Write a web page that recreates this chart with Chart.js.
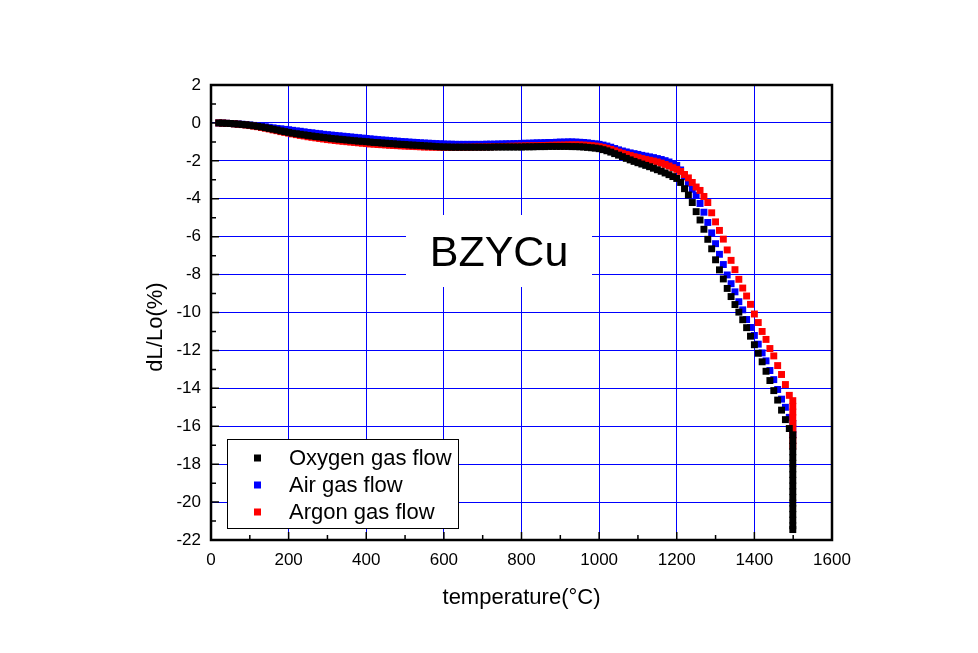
<!DOCTYPE html>
<html>
<head>
<meta charset="utf-8">
<script src="https://cdn.jsdelivr.net/npm/chart.js@4.4.0/dist/chart.umd.min.js"></script>
<style>
  html, body { margin: 0; padding: 0; background: #fff; }
  #wrap { width: 978px; height: 653px; }
</style>
</head>
<body>
<div id="wrap"><canvas id="chart"></canvas></div>
<script>
const sampleName = 'BZYCu';
const seriesLabels = ['Oxygen gas flow', 'Air gas flow', 'Argon gas flow'];
const seriesColors = ['#000000', '#0000ff', '#ff0000'];

// heating ramp, every 10 °C
const temps = [
    20, 30, 40, 50, 60, 70, 80, 90,
    100, 110, 120, 130, 140, 150, 160, 170, 180, 190,
    200, 210, 220, 230, 240, 250, 260, 270, 280, 290,
    300, 310, 320, 330, 340, 350, 360, 370, 380, 390,
    400, 410, 420, 430, 440, 450, 460, 470, 480, 490,
    500, 510, 520, 530, 540, 550, 560, 570, 580, 590,
    600, 610, 620, 630, 640, 650, 660, 670, 680, 690,
    700, 710, 720, 730, 740, 750, 760, 770, 780, 790,
    800, 810, 820, 830, 840, 850, 860, 870, 880, 890,
    900, 910, 920, 930, 940, 950, 960, 970, 980, 990,
    1000, 1010, 1020, 1030, 1040, 1050, 1060, 1070, 1080, 1090,
    1100, 1110, 1120, 1130, 1140, 1150, 1160, 1170, 1180, 1190,
    1200, 1210, 1220, 1230, 1240, 1250, 1260, 1270, 1280, 1290,
    1300, 1310, 1320, 1330, 1340, 1350, 1360, 1370, 1380, 1390,
    1400, 1410, 1420, 1430, 1440, 1450, 1460, 1470, 1480, 1490
];

const oxygen = [
    0.00, -0.01, -0.02, -0.03, -0.05, -0.06, -0.08, -0.10,
    -0.12, -0.15, -0.18, -0.21, -0.25, -0.29, -0.33, -0.37, -0.42, -0.46,
    -0.50, -0.54, -0.57, -0.60, -0.63, -0.66, -0.69, -0.72, -0.74, -0.77,
    -0.79, -0.82, -0.84, -0.86, -0.88, -0.90, -0.92, -0.94, -0.96, -0.97,
    -0.99, -1.01, -1.03, -1.04, -1.06, -1.07, -1.09, -1.10, -1.12, -1.13,
    -1.14, -1.16, -1.17, -1.18, -1.19, -1.21, -1.22, -1.23, -1.25, -1.26,
    -1.27, -1.27, -1.28, -1.28, -1.28, -1.28, -1.28, -1.28, -1.28, -1.28,
    -1.28, -1.28, -1.28, -1.27, -1.27, -1.27, -1.27, -1.27, -1.27, -1.27,
    -1.27, -1.26, -1.26, -1.26, -1.25, -1.25, -1.25, -1.24, -1.24, -1.24,
    -1.24, -1.24, -1.24, -1.25, -1.25, -1.26, -1.27, -1.29, -1.31, -1.33,
    -1.36, -1.41, -1.47, -1.54, -1.62, -1.70, -1.78, -1.87, -1.95, -2.03,
    -2.10, -2.17, -2.24, -2.31, -2.39, -2.47, -2.55, -2.64, -2.73, -2.83,
    -2.93, -3.14, -3.47, -3.80, -4.20, -4.68, -5.12, -5.61, -6.14, -6.64,
    -7.22, -7.75, -8.23, -8.73, -9.16, -9.58, -9.98, -10.38, -10.80, -11.25,
    -11.70, -12.15, -12.60, -13.10, -13.59, -14.12, -14.62, -15.15, -15.65, -16.12
];

const air = [
    0.00, -0.01, -0.02, -0.03, -0.04, -0.06, -0.07, -0.09,
    -0.11, -0.13, -0.15, -0.18, -0.20, -0.23, -0.26, -0.29, -0.31, -0.34,
    -0.36, -0.39, -0.42, -0.44, -0.47, -0.50, -0.52, -0.55, -0.57, -0.60,
    -0.62, -0.64, -0.66, -0.68, -0.70, -0.72, -0.74, -0.76, -0.78, -0.80,
    -0.82, -0.84, -0.86, -0.88, -0.90, -0.91, -0.93, -0.95, -0.96, -0.98,
    -0.99, -1.01, -1.02, -1.03, -1.05, -1.06, -1.07, -1.08, -1.09, -1.10,
    -1.11, -1.12, -1.12, -1.13, -1.13, -1.13, -1.13, -1.13, -1.13, -1.13,
    -1.13, -1.12, -1.12, -1.12, -1.11, -1.11, -1.10, -1.10, -1.09, -1.09,
    -1.08, -1.07, -1.07, -1.06, -1.05, -1.05, -1.04, -1.03, -1.03, -1.02,
    -1.01, -1.01, -1.00, -1.00, -1.01, -1.02, -1.03, -1.05, -1.08, -1.10,
    -1.13, -1.17, -1.22, -1.28, -1.35, -1.42, -1.48, -1.53, -1.58, -1.62,
    -1.66, -1.71, -1.75, -1.79, -1.83, -1.88, -1.93, -1.99, -2.06, -2.14,
    -2.24, -2.48, -2.84, -3.18, -3.50, -3.83, -4.25, -4.71, -5.25, -5.80,
    -6.37, -6.93, -7.47, -8.02, -8.48, -8.91, -9.43, -9.86, -10.37, -10.79,
    -11.21, -11.67, -12.13, -12.55, -13.06, -13.54, -14.06, -14.57, -15.00, -15.53
];

const argon = [
    0.00, -0.01, -0.02, -0.03, -0.05, -0.07, -0.09, -0.11,
    -0.14, -0.17, -0.20, -0.24, -0.28, -0.32, -0.37, -0.41, -0.46, -0.50,
    -0.54, -0.58, -0.62, -0.66, -0.69, -0.73, -0.76, -0.79, -0.82, -0.85,
    -0.88, -0.90, -0.93, -0.95, -0.97, -0.99, -1.01, -1.03, -1.05, -1.07,
    -1.09, -1.11, -1.12, -1.14, -1.15, -1.16, -1.18, -1.19, -1.20, -1.21,
    -1.22, -1.23, -1.24, -1.25, -1.26, -1.27, -1.27, -1.28, -1.28, -1.29,
    -1.29, -1.29, -1.29, -1.29, -1.29, -1.28, -1.28, -1.28, -1.27, -1.27,
    -1.27, -1.26, -1.26, -1.25, -1.25, -1.24, -1.24, -1.23, -1.23, -1.22,
    -1.22, -1.21, -1.21, -1.20, -1.20, -1.19, -1.19, -1.18, -1.18, -1.17,
    -1.17, -1.17, -1.16, -1.16, -1.16, -1.16, -1.17, -1.18, -1.20, -1.22,
    -1.25, -1.29, -1.34, -1.40, -1.47, -1.54, -1.60, -1.66, -1.72, -1.78,
    -1.83, -1.88, -1.93, -1.97, -2.01, -2.06, -2.12, -2.19, -2.27, -2.36,
    -2.45, -2.56, -2.72, -2.90, -3.14, -3.38, -3.56, -3.88, -4.20, -4.74,
    -5.22, -5.67, -6.13, -6.70, -7.25, -7.74, -8.25, -8.71, -9.13, -9.57,
    -10.08, -10.53, -11.00, -11.42, -11.90, -12.29, -12.80, -13.27, -13.80, -14.37
];

// isothermal hold at the top of the ramp
const holdTemp = 1499;
const oxygenHold = [-16.45, -16.75, -17.05, -17.35, -17.65, -17.95, -18.25, -18.55, -18.85,
    -19.15, -19.45, -19.75, -20.05, -20.35, -20.65, -20.95, -21.25, -21.45];
const airHold = [-15.85, -16.15, -16.45];
const argonHold = [-14.65, -14.95, -15.25, -15.55, -15.85, -16.15, -16.45, -16.75, -17.05];

const FONT = 'Arial, "Liberation Sans", sans-serif';

const toPoints = (vals, hold) =>
    temps.map((t, i) => ({ x: t, y: vals[i] })).concat(hold.map(v => ({ x: holdTemp, y: v })));

const decorPlugin = {
    id: 'decorPlugin',
    beforeDatasetsDraw(chart) {
        // white box with the sample name, on top of the grid
        const { ctx, chartArea: a } = chart;
        ctx.save();
        ctx.fillStyle = '#fff';
        ctx.fillRect(a.left + 195, a.top + 130, 186, 72);
        ctx.fillStyle = '#000';
        ctx.font = '43px ' + FONT;
        ctx.textAlign = 'center';
        ctx.textBaseline = 'alphabetic';
        ctx.fillText(sampleName, a.left + 288, a.top + 181);
        ctx.restore();
    },
    afterDraw(chart) {
        const { ctx, chartArea: a, scales } = chart;
        ctx.save();

        // inner tick marks, bottom and left only
        ctx.strokeStyle = '#000';
        ctx.lineWidth = 1.5;
        ctx.beginPath();
        for (let t = 100; t < 1600; t += 100) {
            const px = scales.x.getPixelForValue(t);
            const len = t % 200 === 0 ? 8 : 5;
            ctx.moveTo(px, a.bottom);
            ctx.lineTo(px, a.bottom - len);
        }
        for (let v = -21; v < 2; v++) {
            const py = scales.y.getPixelForValue(v);
            const len = v % 2 === 0 ? 8 : 5;
            ctx.moveTo(a.left, py);
            ctx.lineTo(a.left + len, py);
        }
        ctx.stroke();

        // frame
        ctx.lineWidth = 2.5;
        ctx.strokeRect(a.left, a.top, a.right - a.left, a.bottom - a.top);

        // legend box
        const lx = a.left + 16, ly = a.bottom - 101;
        ctx.fillStyle = '#fff';
        ctx.fillRect(lx, ly, 231, 89);
        ctx.lineWidth = 1;
        ctx.strokeRect(lx + 0.5, ly + 0.5, 231, 89);
        ctx.font = '22px ' + FONT;
        ctx.textAlign = 'left';
        ctx.textBaseline = 'middle';
        chart.data.datasets.forEach((ds, i) => {
            const yy = ly + 19 + i * 27;
            ctx.fillStyle = ds.backgroundColor;
            ctx.fillRect(lx + 27, yy - 3.5, 7, 7);
            ctx.fillStyle = '#000';
            ctx.fillText(ds.label, lx + 62, yy + 1);
        });

        // y axis title
        ctx.translate(156, 327);
        ctx.rotate(-Math.PI / 2);
        ctx.textAlign = 'center';
        ctx.fillText('dL/Lo(%)', 0, 0);
        ctx.restore();
    }
};

new Chart(document.getElementById('chart'), {
    type: 'scatter',
    data: {
        datasets: [
            { label: seriesLabels[0], data: toPoints(oxygen, oxygenHold), backgroundColor: seriesColors[0], borderColor: seriesColors[0], order: 0 },
            { label: seriesLabels[1], data: toPoints(air, airHold), backgroundColor: seriesColors[1], borderColor: seriesColors[1], order: 2 },
            { label: seriesLabels[2], data: toPoints(argon, argonHold), backgroundColor: seriesColors[2], borderColor: seriesColors[2], order: 1 }
        ]
    },
    options: {
        responsive: true, maintainAspectRatio: false, animation: false,
        layout: { padding: { top: 85, right: 146, left: 0, bottom: 0 } },
        elements: { point: { pointStyle: 'rect', radius: 4.9, hoverRadius: 4.9, borderWidth: 0 } },
        plugins: { legend: { display: false }, tooltip: { enabled: false } },
        scales: {
            x: {
                type: 'linear', min: 0, max: 1600,
                afterFit: s => { s.height = 113; },
                ticks: { stepSize: 200, color: '#000', font: { family: FONT, size: 17 }, padding: 10, callback: v => String(v) },
                grid: { color: '#0000ff', lineWidth: 1, drawTicks: false },
                border: { display: false },
                title: { display: true, text: 'temperature(°C)', color: '#000', font: { family: FONT, size: 22 }, padding: { top: 0, bottom: 42 } }
            },
            y: {
                type: 'linear', min: -22, max: 2,
                afterFit: s => { s.width = 211; },
                ticks: { stepSize: 2, color: '#000', font: { family: FONT, size: 17 }, padding: 10, callback: v => String(v) },
                grid: { color: '#0000ff', lineWidth: 1, drawTicks: false },
                border: { display: false }
            }
        }
    },
    plugins: [decorPlugin]
});
</script>
</body>
</html>
